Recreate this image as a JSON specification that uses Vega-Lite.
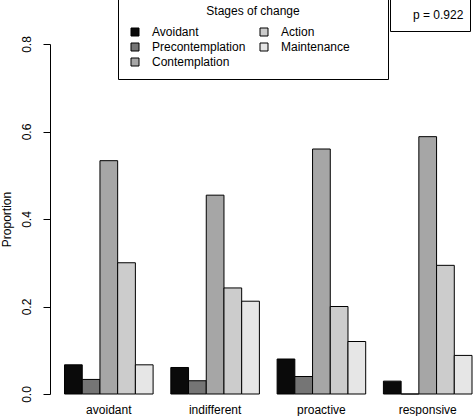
{
  "$schema": "https://vega.github.io/schema/vega-lite/v6.json",
  "width": 422,
  "height": 350,
  "padding": {"left": 50, "top": 44, "right": 1, "bottom": 22},
  "autosize": {"type": "none"},
  "background": "white",
  "config": {
    "view": {"stroke": null},
    "font": "Liberation Sans",
    "axis": {"labelFont": "Liberation Sans", "titleFont": "Liberation Sans", "labelColor": "black", "titleColor": "black", "grid": false},
    "legend": {"labelFont": "Liberation Sans", "titleFont": "Liberation Sans", "labelColor": "black", "titleColor": "black"}
  },
  "layer": [
    {
      "data": {"values": [
        {"group": "avoidant", "stage": "Avoidant", "value": 0.0667},
        {"group": "avoidant", "stage": "Precontemplation", "value": 0.0333},
        {"group": "avoidant", "stage": "Contemplation", "value": 0.5333},
        {"group": "avoidant", "stage": "Action", "value": 0.3},
        {"group": "avoidant", "stage": "Maintenance", "value": 0.0667},
        {"group": "indifferent", "stage": "Avoidant", "value": 0.0606},
        {"group": "indifferent", "stage": "Precontemplation", "value": 0.0303},
        {"group": "indifferent", "stage": "Contemplation", "value": 0.4545},
        {"group": "indifferent", "stage": "Action", "value": 0.2424},
        {"group": "indifferent", "stage": "Maintenance", "value": 0.2121},
        {"group": "proactive", "stage": "Avoidant", "value": 0.08},
        {"group": "proactive", "stage": "Precontemplation", "value": 0.04},
        {"group": "proactive", "stage": "Contemplation", "value": 0.56},
        {"group": "proactive", "stage": "Action", "value": 0.2},
        {"group": "proactive", "stage": "Maintenance", "value": 0.12},
        {"group": "responsive", "stage": "Avoidant", "value": 0.0294},
        {"group": "responsive", "stage": "Precontemplation", "value": 0},
        {"group": "responsive", "stage": "Contemplation", "value": 0.5882},
        {"group": "responsive", "stage": "Action", "value": 0.2941},
        {"group": "responsive", "stage": "Maintenance", "value": 0.0882}
      ]},
      "mark": {"type": "bar", "stroke": "black", "strokeWidth": 1, "cornerRadius": 0},
      "encoding": {
        "x": {
          "field": "group", "type": "nominal",
          "sort": ["avoidant", "indifferent", "proactive", "responsive"],
          "scale": {"paddingInner": 0.16667, "paddingOuter": 0.0683, "align": 1, "round": false},
          "axis": {"title": null, "domain": false, "ticks": false, "tickSize": 0, "labelAngle": 0, "labelFontSize": 12, "labelPadding": 10.5}
        },
        "xOffset": {
          "field": "stage", "type": "nominal",
          "sort": ["Avoidant", "Precontemplation", "Contemplation", "Action", "Maintenance"],
          "scale": {"paddingInner": 0, "paddingOuter": 0, "round": false}
        },
        "y": {
          "field": "value", "type": "quantitative",
          "scale": {"domain": [0, 0.8], "nice": false, "zero": true},
          "axis": {
            "title": "Proportion", "values": [0, 0.2, 0.4, 0.6, 0.8], "format": ".1f",
            "domainColor": "black", "domainWidth": 1, "tickColor": "black", "tickWidth": 1, "tickSize": 7,
            "labelFontSize": 12, "labelAngle": 270, "labelAlign": "center", "labelBaseline": "alphabetic", "labelPadding": 13,
            "titleFontSize": 12, "titleFontWeight": "normal", "titleAngle": 270, "titleAlign": "center", "titleBaseline": "alphabetic",
            "titleX": -40, "titleY": 175
          }
        },
        "fill": {
          "field": "stage", "type": "nominal",
          "scale": {
            "domain": ["Avoidant", "Precontemplation", "Contemplation", "Action", "Maintenance"],
            "range": ["#0a0a0a", "#757575", "#a6a6a6", "#cccccc", "#e6e6e6"]
          },
          "legend": {
            "title": "Stages of change", "orient": "none", "legendX": 68, "legendY": -49,
            "direction": "vertical", "columns": 2, "columnPadding": 12, "rowPadding": 3,
            "padding": 11, "strokeColor": "black", "fillColor": "white",
            "symbolType": "square", "symbolSize": 64, "symbolStrokeColor": "black", "symbolStrokeWidth": 1,
            "labelFontSize": 12, "labelOffset": 11,
            "labelExpr": "datum.label == 'Maintenance' ? 'Maintenance\u2800\u2800\u2800' : datum.label",
            "titleFontSize": 12, "titleFontWeight": "normal", "titleAnchor": "middle", "titlePadding": 8, "titleBaseline": "top"
          }
        }
      }
    },
    {
      "data": {"values": [{"p": "p = 0.922"}]},
      "mark": {"type": "point", "opacity": 0},
      "encoding": {
        "shape": {
          "field": "p", "type": "nominal",
          "legend": {
            "title": null, "orient": "none", "legendX": 340, "legendY": -45,
            "padding": 6, "strokeColor": "black", "fillColor": "white",
            "symbolSize": 400, "symbolOpacity": 0, "symbolStrokeWidth": 0,
            "labelFontSize": 12, "labelOffset": -3
          }
        }
      }
    }
  ]
}
